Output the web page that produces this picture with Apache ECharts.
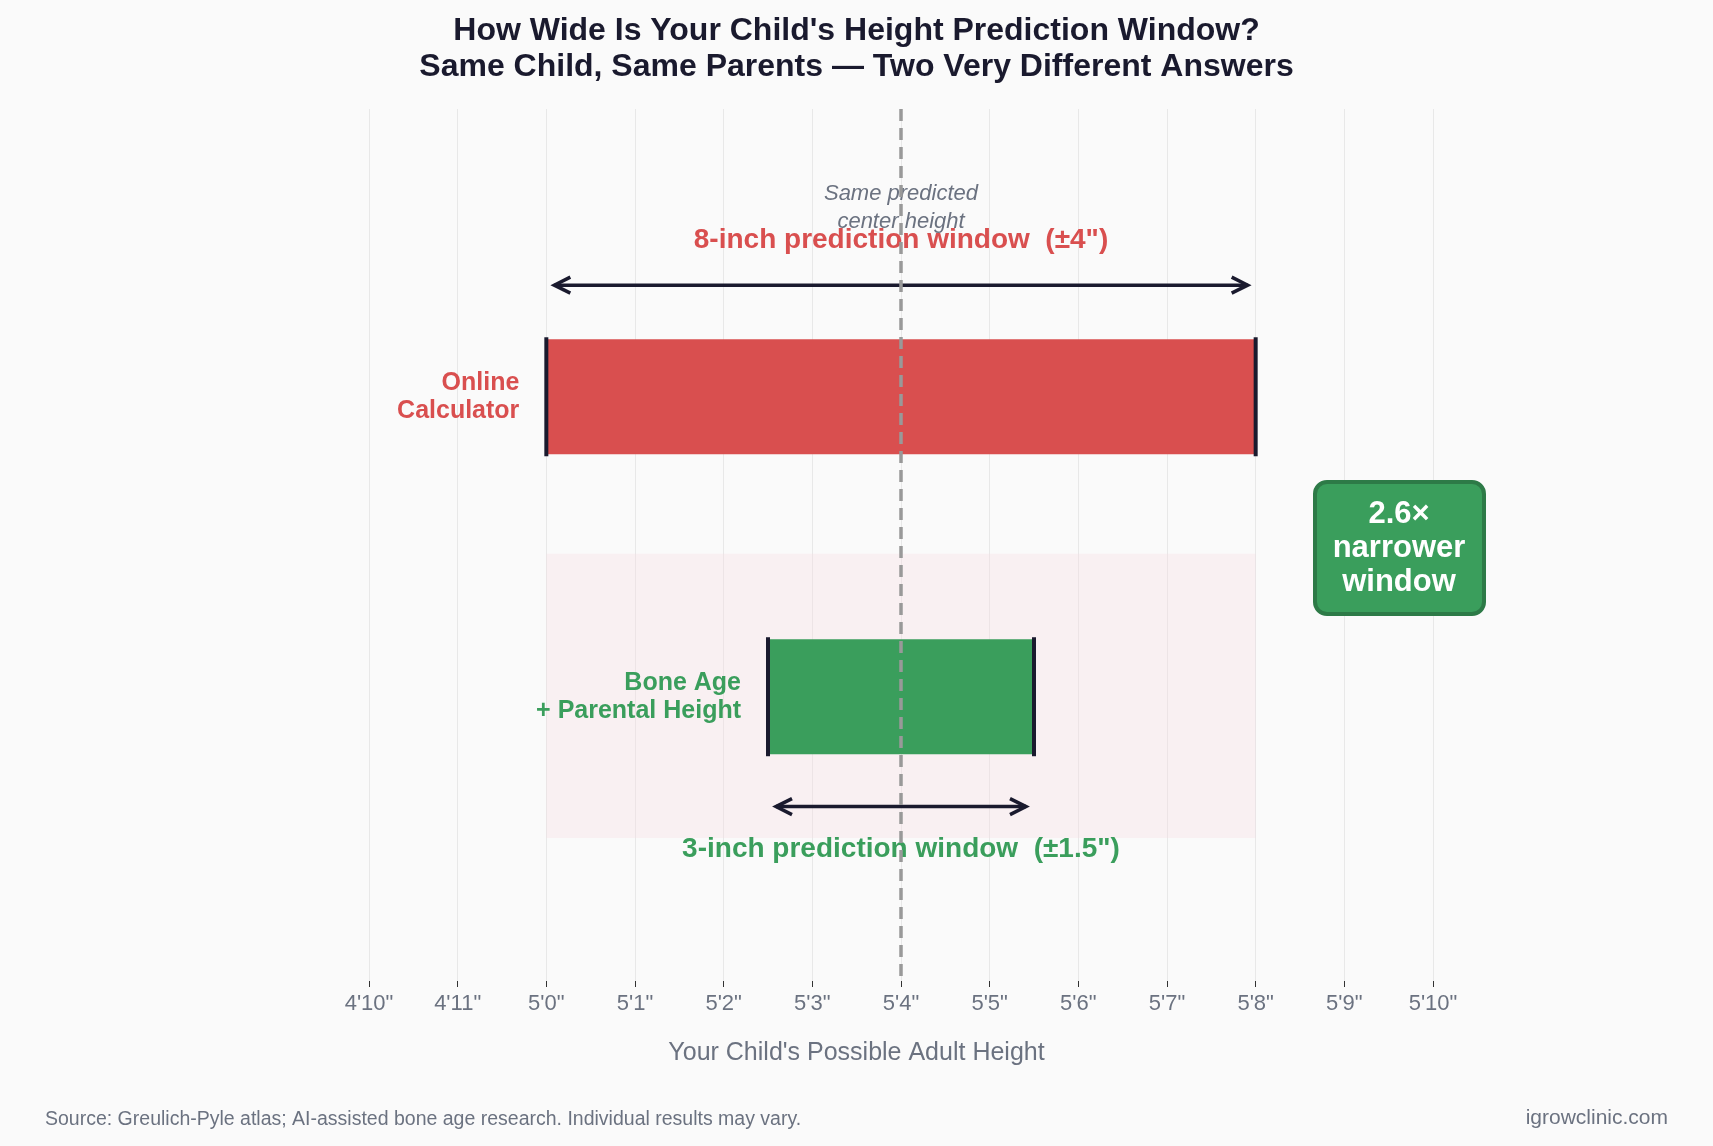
<!DOCTYPE html>
<html>
<head>
<meta charset="utf-8">
<script src="https://cdn.jsdelivr.net/npm/echarts@6/dist/echarts.min.js"></script>
<style>html,body{margin:0;background:#fafafa}#chart{width:1713px;height:1146px}</style>
</head>
<body>
<div id="chart"></div>
<script>
// 数据
var rowNames = ['Online\nCalculator', 'Bone Age\n+ Parental Height'];
var rowY = [33, 67.4];
var lows = [60, 62.5];
var highs = [68, 65.5];
var rowColors = ['#d94f4f', '#3a9e5c'];
var windowLabels = ['8-inch prediction window  (±4")', '3-inch prediction window  (±1.5")'];
var arrowY = [20.2, 80];
var labelY = [15, 84.9];
var centerHeight = 64;

function fmtHeight(v) {
    var ft = Math.floor(v / 12), inch = Math.round(v - ft * 12);
    return ft + "'" + inch + '"';
}

var myChart = echarts.init(document.getElementById('chart'));
var font = 'Liberation Sans, Arial, sans-serif';
var barData = rowY.map(function (y, i) { return [lows[i], highs[i], y, i]; });

var option = {
    backgroundColor: '#fafafa',
    textStyle: { fontFamily: font },
    title: {
        text: "How Wide Is Your Child's Height Prediction Window?\nSame Child, Same Parents — Two Very Different Answers",
        left: 'center', top: 8,
        textStyle: { fontSize: 32, fontWeight: 'bold', color: '#1a1a2e', lineHeight: 36 }
    },
    grid: { left: 369, right: 280, top: 109, bottom: 165 },
    xAxis: {
        type: 'value', min: 58, max: 70, interval: 1, position: 'bottom',
        axisLine: { show: false, onZero: false },
        axisTick: { show: true, length: 6, lineStyle: { color: '#333' } },
        axisLabel: { fontSize: 22, color: '#6b7280', margin: 12, formatter: fmtHeight },
        splitLine: { show: true, lineStyle: { color: '#e8e8e8' } }
    },
    yAxis: { type: 'value', min: 0, max: 100, inverse: true, show: false },
    series: [
        {
            type: 'custom',
            data: barData,
            renderItem: function (params, api) {
                var i = api.value(3);
                var lo = api.value(0), hi = api.value(1), y = api.value(2);
                var p0 = api.coord([lo, y]), p1 = api.coord([hi, y]);
                var h = 115;
                var children = [];
                if (i === 1) {
                    var s0 = api.coord([lows[0], 51]), s1 = api.coord([highs[0], 83.6]);
                    children.push({ type: 'rect', shape: { x: s0[0], y: s0[1], width: s1[0] - s0[0], height: s1[1] - s0[1] }, style: { fill: 'rgba(249,220,224,0.3)' }, z2: 0 });
                } else {
                    var c = api.coord([centerHeight, 11.3]);
                    children.push({ type: 'text', style: { text: 'Same predicted\ncenter height', x: c[0], y: c[1], align: 'center', verticalAlign: 'middle', fill: '#6b7280', font: 'italic 22px ' + font, lineHeight: 28 }, z2: 3 });
                }
                children.push({ type: 'rect', shape: { x: p0[0], y: p0[1] - h / 2, width: p1[0] - p0[0], height: h }, style: { fill: rowColors[i] }, z2: 1 });
                [p0[0], p1[0]].forEach(function (x) {
                    children.push({ type: 'line', shape: { x1: x, y1: p0[1] - h / 2 - 2, x2: x, y2: p0[1] + h / 2 + 2 }, style: { stroke: '#1a1a2e', lineWidth: 4 }, z2: 2 });
                });
                children.push({ type: 'text', style: { text: rowNames[i], x: p0[0] - 27, y: p0[1], align: 'right', verticalAlign: 'middle', fill: rowColors[i], font: 'bold 25px ' + font, lineHeight: 28 }, z2: 3 });
                // 箭头
                var ay = api.coord([lo, arrowY[i]])[1];
                var a0 = p0[0] + 8, a1 = p1[0] - 8;
                children.push({ type: 'line', shape: { x1: a0, y1: ay, x2: a1, y2: ay }, style: { stroke: '#1a1a2e', lineWidth: 3.5 }, z2: 3 });
                children.push({ type: 'polyline', shape: { points: [[a0 + 16, ay - 8], [a0, ay], [a0 + 16, ay + 8]] }, style: { stroke: '#1a1a2e', lineWidth: 3.5, fill: null }, z2: 3 });
                children.push({ type: 'polyline', shape: { points: [[a1 - 16, ay - 8], [a1, ay], [a1 - 16, ay + 8]] }, style: { stroke: '#1a1a2e', lineWidth: 3.5, fill: null }, z2: 3 });
                var lp = api.coord([(lo + hi) / 2, labelY[i]]);
                children.push({ type: 'text', style: { text: windowLabels[i], x: lp[0], y: lp[1], align: 'center', verticalAlign: 'middle', fill: rowColors[i], font: 'bold 28px ' + font }, z2: 3 });
                return { type: 'group', children: children };
            },
            markLine: {
                silent: true, symbol: 'none',
                lineStyle: { color: '#999', type: [12, 7], width: 3.5 },
                label: { show: false },
                data: [{ xAxis: centerHeight }],
                z: 10
            },
            z: 2
        }
    ],
    graphic: [
        {
            type: 'group', left: 1313, top: 480, z: 100,
            children: [
                { type: 'rect', shape: { x: 0, y: 0, width: 169, height: 132, r: 12 }, style: { fill: '#3a9e5c', stroke: '#2d7a47', lineWidth: 4 }, z: 100 },
                { type: 'text', style: { text: '2.6×\nnarrower\nwindow', x: 84, y: 66, align: 'center', verticalAlign: 'middle', fill: '#fff', font: 'bold 31px ' + font, lineHeight: 34 }, z: 101 }
            ]
        },
        { type: 'text', left: 'center', top: 1041, style: { text: "Your Child's Possible Adult Height", fill: '#6b7280', font: '25px ' + font } },
        { type: 'text', left: 45, top: 1110, style: { text: 'Source: Greulich-Pyle atlas; AI-assisted bone age research. Individual results may vary.', fill: '#6b7280', font: '19.5px ' + font } },
        { type: 'text', right: 45, top: 1108, style: { text: 'igrowclinic.com', fill: '#6b7280', font: '21px ' + font } }
    ]
};
myChart.setOption(option);
</script>
</body>
</html>
